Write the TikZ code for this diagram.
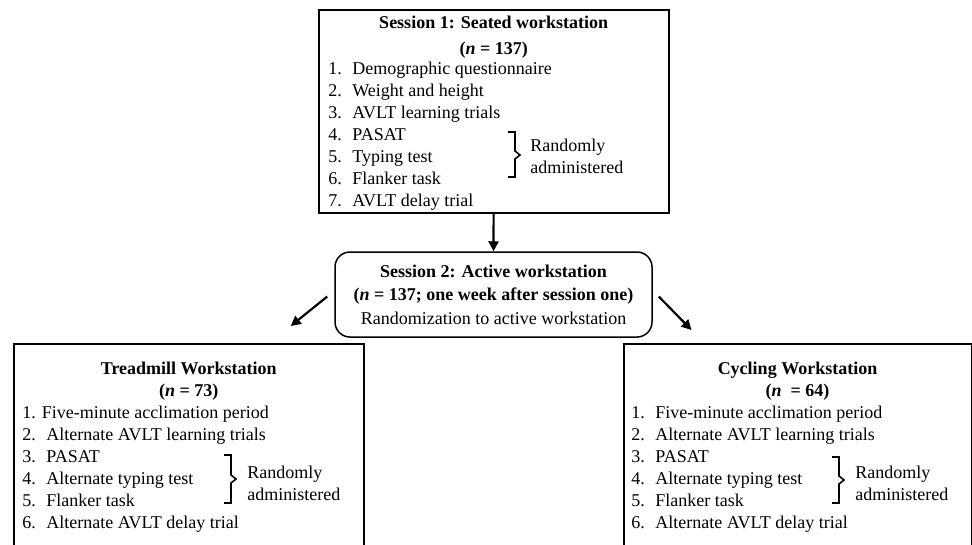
\documentclass[tikz,border=0pt]{standalone}
\usepackage{fontspec}
\setmainfont{Liberation Serif}
\usetikzlibrary{positioning}
\usetikzlibrary{arrows.meta}
\newcommand{\numline}[2]{\makebox[24pt][l]{#1}#2}

\begin{document}
\begin{tikzpicture}[x=1pt,y=-1pt,thick,
    font=\fontsize{18}{22}\selectfont,
    flowarrow/.style={-{Triangle[length=10pt,width=10pt]},line width=2.2pt},
    randbrace/.style={line width=1.6pt,line join=miter},
    itemtext/.style={inner sep=0pt,align=left,anchor=north west},
    titletext/.style={inner sep=0pt,align=center,anchor=north,font=\fontsize{18}{22}\selectfont\bfseries}]
    % cajas de cada sesión
    \tikzstyle{stationbox}=[draw,line width=1.5pt,inner sep=0pt,anchor=north west]
    \useasboundingbox (0,0) rectangle (972,544);
    \clip (0,0) rectangle (972,544);

    \node[stationbox,minimum width=350,minimum height=203] (s1) at (318,9) {};
    \node[titletext] (s1t) at ([yshift=-7pt]s1.north) {Session 1: Seated workstation\\[4pt](\textit{n} = 137)};
    \node[itemtext] (s1l) at ([xshift=10pt,yshift=-53pt]s1.north west) {\numline{1.}{Demographic questionnaire}\\
      \numline{2.}{Weight and height}\\
      \numline{3.}{AVLT learning trials}\\
      \numline{4.}{PASAT}\\
      \numline{5.}{Typing test}\\
      \numline{6.}{Flanker task}\\
      \numline{7.}{AVLT delay trial}};
    \node[itemtext] (r1) at (530,139) {Randomly\\administered};
    \draw[randbrace] (508,132) -- (515,132) -- (515,151) -- (520,155) -- (515,159) -- (515,177) -- (508,177);

    \node[draw,line width=1.5pt,rounded corners=15pt,minimum width=317,minimum height=85,
      align=center,inner sep=0pt,font=\fontsize{18}{23.5}\selectfont] (s2) at (493.5,294.5)
      {\textbf{Session 2: Active workstation}\\
       \textbf{(\textit{n} = 137; one week after session one)}\\
       Randomization to active workstation};

    \node[stationbox,minimum width=350,minimum height=230] (tm) at (13,343) {};
    \node[titletext] (tmt) at ([yshift=-19pt]tm.north) {Treadmill Workstation\\(\textit{n} = 73)};
    \node[itemtext] (tml) at ([xshift=9pt,yshift=-63pt]tm.north west) {1. Five-minute acclimation period\\
      \numline{2.}{Alternate AVLT learning trials}\\
      \numline{3.}{PASAT}\\
      \numline{4.}{Alternate typing test}\\
      \numline{5.}{Flanker task}\\
      \numline{6.}{Alternate AVLT delay trial}};
    \node[itemtext] (r2) at (247,466) {Randomly\\administered};
    \draw[randbrace] (224,455) -- (231,455) -- (231,475) -- (236,479) -- (231,483) -- (231,503) -- (224,503);

    \node[stationbox,minimum width=347.5,minimum height=230] (cy) at (623,343) {};
    \node[titletext] (cyt) at ([yshift=-19pt]cy.north) {Cycling Workstation\\(\textit{n}\ \ = 64)};
    \node[itemtext] (cyl) at ([xshift=8pt,yshift=-63pt]cy.north west) {\numline{1.}{Five-minute acclimation period}\\
      \numline{2.}{Alternate AVLT learning trials}\\
      \numline{3.}{PASAT}\\
      \numline{4.}{Alternate typing test}\\
      \numline{5.}{Flanker task}\\
      \numline{6.}{Alternate AVLT delay trial}};
    \node[itemtext] (r3) at (855,466) {Randomly\\administered};
    \draw[randbrace] (832,457) -- (839,457) -- (839,476) -- (844,480) -- (839,484) -- (839,503) -- (832,503);

    \draw[flowarrow] (s1) -- (s2);
    \draw[flowarrow] ([xshift=-7pt,yshift=-2pt]s2.west) -- ([xshift=102pt,yshift=17pt]tm.north);
    \draw[flowarrow] ([xshift=6pt,yshift=-2pt]s2.east) -- ([xshift=-106pt,yshift=13pt]cy.north);
\end{tikzpicture}
\end{document}
